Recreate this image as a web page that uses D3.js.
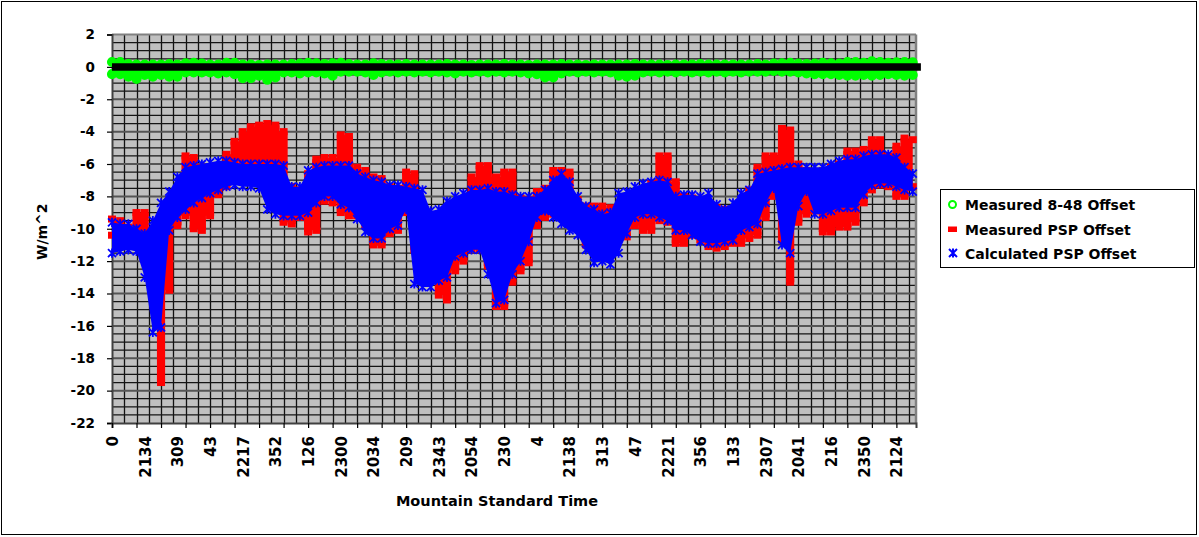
<!DOCTYPE html>
<html>
<head>
<meta charset="utf-8">
<script src="https://cdn.jsdelivr.net/npm/d3@7"></script>
<style>
  body { margin: 0; background: #fff; }
  text { font-family: "DejaVu Sans", sans-serif; font-weight: bold; fill: #000; }
</style>
</head>
<body>
<div id="chart"></div>
<script>
// x tick labels (Mountain Standard Time, HHMM), one every 4 samples
const timeLabels = ['0', '2134', '309', '43', '2217', '352', '126', '2300', '2034', '209',
  '2343', '2054', '230', '4', '2138', '313', '47', '2221', '356', '133',
  '2307', '2041', '216', '2350', '2124'];

const greenHi = [
  0.3, 0.3, 0.18, 0.15, 0.15, 0.15, 0.15, 0.18, 0.15, 0.22,
  0.25, 0.2, 0.15, 0.15, 0.25, 0.25, 0.15, 0.15, 0.12, 0.15,
  0.15, 0.15, 0.18, 0.2, 0.25, 0.22, 0.18, 0.22, 0.25, 0.18,
  0.15, 0.15, 0.22, 0.18, 0.15, 0.15, 0.18, 0.15, 0.15, 0.15,
  0.15, 0.18, 0.15, 0.15, 0.12, 0.15, 0.15, 0.15, 0.18, 0.15,
  0.15, 0.12, 0.15, 0.15, 0.15, 0.18, 0.15, 0.15, 0.12, 0.15,
  0.15, 0.15, 0.15, 0.15, 0.18, 0.15, 0.15, 0.15, 0.12, 0.15,
  0.15, 0.15, 0.18, 0.15, 0.15, 0.15, 0.15, 0.15, 0.15, 0.18,
  0.15, 0.2, 0.22, 0.25, 0.2, 0.18, 0.2, 0.25, 0.22, 0.2,
  0.3, 0.3, 0.25, 0.35, 0.3, 0.25, 0.28, 0.3, 0.28];
const greenLo = [
  -0.45, -0.45, -0.6, -0.75, -0.5, -0.6, -0.5, -0.6, -0.6, -0.35,
  -0.35, -0.35, -0.35, -0.4, -0.35, -0.45, -0.7, -0.7, -0.55, -0.8,
  -0.65, -0.35, -0.35, -0.4, -0.35, -0.35, -0.4, -0.55, -0.3, -0.3,
  -0.3, -0.35, -0.5, -0.35, -0.3, -0.35, -0.3, -0.35, -0.3, -0.35,
  -0.3, -0.35, -0.4, -0.3, -0.35, -0.3, -0.35, -0.3, -0.35, -0.3,
  -0.35, -0.4, -0.45, -0.65, -0.65, -0.4, -0.3, -0.35, -0.3, -0.35,
  -0.3, -0.35, -0.55, -0.6, -0.55, -0.35, -0.3, -0.35, -0.3, -0.35,
  -0.3, -0.35, -0.3, -0.35, -0.3, -0.35, -0.3, -0.35, -0.3, -0.3,
  -0.3, -0.25, -0.3, -0.3, -0.35, -0.4, -0.45, -0.45, -0.45, -0.5,
  -0.55, -0.55, -0.5, -0.55, -0.5, -0.45, -0.5, -0.55, -0.5];

const redHi = [
  -9.4, -9.5, -9.9, -9.0, -9.0, -10.2, -10.5, -9.8, -8.7, -5.5,
  -5.6, -6.2, -6.4, -6.2, -5.4, -4.6, -4.0, -3.7, -3.6, -3.5,
  -3.6, -4.0, -7.4, -7.6, -6.6, -5.7, -5.6, -5.6, -4.2, -4.3,
  -6.2, -6.4, -6.8, -6.9, -7.4, -7.5, -6.5, -6.6, -9.0, -9.4,
  -9.5, -9.2, -8.7, -8.2, -6.8, -6.1, -6.1, -6.8, -6.5, -6.5,
  -8.1, -8.2, -7.7, -7.5, -6.4, -6.4, -6.5, -8.2, -8.6, -8.6,
  -8.6, -8.7, -8.9, -8.5, -8.3, -7.6, -7.2, -5.5, -5.5, -7.1,
  -8.0, -8.1, -8.7, -8.4, -8.7, -8.8, -8.8, -8.4, -7.6, -6.2,
  -5.5, -5.5, -3.8, -3.9, -6.0, -6.4, -6.5, -6.4, -6.2, -6.0,
  -5.2, -5.2, -5.1, -4.5, -4.5, -5.5, -4.9, -4.4, -4.5];
const redLo = [
  -10.4, -10.3, -10.6, -10.3, -10.1, -12.3, -19.5, -13.8, -9.8, -9.2,
  -10.0, -10.1, -9.2, -7.9, -7.4, -6.3, -5.8, -5.8, -5.8, -6.0,
  -6.3, -9.6, -9.7, -9.3, -10.2, -10.1, -8.3, -8.4, -9.0, -9.2,
  -9.2, -9.8, -11.0, -11.0, -10.3, -10.1, -9.0, -11.3, -11.4, -12.3,
  -14.1, -14.4, -12.6, -12.0, -11.3, -11.3, -12.3, -14.8, -14.8, -13.3,
  -12.6, -12.1, -9.8, -9.3, -9.1, -9.3, -9.4, -9.8, -11.0, -11.3,
  -11.6, -11.3, -10.5, -10.5, -9.8, -10.1, -10.1, -9.5, -9.6, -10.9,
  -10.9, -10.4, -10.7, -11.1, -11.2, -11.1, -10.9, -10.9, -10.6, -10.4,
  -9.3, -8.0, -10.7, -13.3, -9.6, -9.1, -8.9, -10.2, -10.2, -9.9,
  -9.9, -9.6, -8.4, -7.6, -7.3, -7.4, -8.0, -8.0, -7.4];

const blueHi = [
  -9.6, -9.7, -9.7, -10.0, -10.3, -9.5, -8.4, -7.7, -6.8, -6.2,
  -6.1, -6.0, -5.9, -5.8, -5.8, -5.9, -6.0, -6.0, -6.0, -6.0,
  -6.0, -6.1, -7.4, -7.4, -6.4, -6.2, -6.1, -6.1, -6.1, -6.1,
  -6.6, -6.8, -7.0, -7.1, -7.3, -7.3, -7.4, -7.5, -7.6, -8.9,
  -8.8, -8.3, -8.0, -7.8, -7.6, -7.6, -7.5, -7.7, -7.7, -7.9,
  -8.0, -8.0, -8.0, -7.6, -7.0, -6.6, -7.1, -8.0, -8.6, -8.8,
  -9.1, -9.0, -7.8, -7.7, -7.4, -7.2, -7.1, -7.0, -7.1, -8.0,
  -7.9, -7.9, -8.0, -7.8, -8.5, -8.8, -8.4, -7.8, -7.6, -6.6,
  -6.5, -6.4, -6.3, -6.2, -6.2, -6.2, -6.2, -6.2, -6.0, -5.8,
  -5.7, -5.7, -5.5, -5.4, -5.4, -5.4, -5.6, -6.2, -6.6];
const blueLo = [
  -11.5, -11.4, -11.3, -11.4, -13.0, -16.4, -16.1, -10.1, -9.3, -8.8,
  -8.4, -8.1, -7.8, -7.6, -7.4, -7.3, -7.4, -7.4, -7.5, -8.8,
  -9.1, -9.2, -9.2, -9.2, -9.0, -8.4, -8.0, -8.0, -8.5, -8.7,
  -9.4, -10.2, -10.6, -10.6, -10.0, -9.8, -8.8, -13.4, -13.6, -13.6,
  -13.2, -13.0, -11.7, -11.5, -11.3, -11.3, -12.8, -14.6, -14.4, -12.8,
  -12.0, -10.8, -9.3, -8.9, -9.3, -9.7, -10.1, -10.4, -11.3, -12.1,
  -12.0, -12.2, -11.5, -10.3, -9.3, -9.1, -9.1, -9.3, -9.5, -10.1,
  -10.1, -10.4, -10.8, -10.9, -10.9, -10.8, -10.7, -10.1, -9.9, -9.7,
  -8.4, -7.5, -11.0, -11.5, -8.6, -7.7, -9.1, -9.1, -8.9, -8.7,
  -8.7, -8.7, -7.9, -7.3, -7.2, -7.2, -7.4, -7.6, -7.7];

const yTicks = [2, 0, -2, -4, -6, -8, -10, -12, -14, -16, -18, -20, -22];
const legendNames = ['Measured 8-48 Offset', 'Measured PSP Offset', 'Calculated PSP Offset'];

const width = 1199;
const height = 537;
const margin = { top: 34.5, right: 283, bottom: 114, left: 112 };
const labelEvery = 4;      // samples between time labels
const tickEvery = 3;       // samples between axis tick marks
const gridEvery = 1.5;     // samples between vertical grid lines
const nSamples = blueHi.length;
const xEnd = 98.4;

const svg = d3.select('#chart')
  .append('svg')
  .attr('width', width)
  .attr('height', height);

svg.append('rect')
  .attr('width', width).attr('height', height)
  .attr('fill', '#fff');

// outer chart border
svg.append('rect')
  .attr('x', 1.5).attr('y', 1.5)
  .attr('width', width - 4).attr('height', height - 4)
  .attr('fill', 'none').attr('stroke', '#000').attr('stroke-width', 1);

const x = d3.scaleLinear().domain([0, xEnd]).range([margin.left, width - margin.right]);
const y = d3.scaleLinear().domain([-22, 2]).range([height - margin.bottom, margin.top]);

const [x0, x1] = x.range();
const [yb, yt] = y.range();

// plot background
svg.append('rect')
  .attr('x', x0).attr('y', yt)
  .attr('width', x1 - x0).attr('height', yb - yt)
  .attr('fill', '#c0c0c0');

// gridlines
const grid = svg.append('g').attr('class', 'grid');
grid.selectAll('line.v')
  .data(d3.range(gridEvery, xEnd, gridEvery))
  .join('line')
  .attr('class', 'v')
  .attr('x1', d => Math.round(x(d)) + 0.5).attr('x2', d => Math.round(x(d)) + 0.5)
  .attr('y1', yt).attr('y2', yb)
  .attr('stroke', '#111').attr('stroke-width', 1.3);

grid.selectAll('line.h')
  .data(d3.range(-21.5, 2, 0.5))
  .join('line')
  .attr('class', 'h')
  .attr('x1', x0).attr('x2', x1)
  .attr('y1', d => y(d)).attr('y2', d => y(d))
  .attr('stroke', d => (d % 2 === 0 ? '#555' : '#151515'))
  .attr('stroke-width', d => (d % 2 === 0 ? 2 : 1.2));

// plot border
svg.append('line').attr('x1', x0).attr('x2', x1).attr('y1', yt).attr('y2', yt)
  .attr('stroke', '#808080').attr('stroke-width', 2);
svg.append('line').attr('x1', x1).attr('x2', x1).attr('y1', yt).attr('y2', yb)
  .attr('stroke', '#808080').attr('stroke-width', 2.5);

// axes
const yAxis = svg.append('g')
  .attr('transform', `translate(${x0},0)`)
  .call(d3.axisLeft(y).tickValues(yTicks).tickSize(5).tickPadding(12).tickFormat(d => String(d)));
yAxis.select('.domain').attr('stroke', '#404040').attr('stroke-width', 2);
yAxis.selectAll('.tick line').attr('stroke', '#000').attr('stroke-width', 1.2);
yAxis.selectAll('text').style('font-size', '13.5px').attr('font-family', null);

const xAxis = svg.append('g')
  .attr('transform', `translate(0,${yb})`)
  .call(d3.axisBottom(x).tickValues(d3.range(0, nSamples, tickEvery)).tickSize(5).tickFormat(''));
xAxis.select('.domain').attr('stroke', '#404040').attr('stroke-width', 2);
xAxis.selectAll('.tick line').attr('stroke', '#000').attr('stroke-width', 1.2);

const labelPos = timeLabels.map((t, i) => i * labelEvery);
const xLabels = svg.append('g')
  .attr('transform', `translate(0,${yb})`)
  .call(d3.axisBottom(x).tickValues(labelPos).tickSize(0)
    .tickFormat((d, i) => timeLabels[i]));
xLabels.select('.domain').remove();
xLabels.selectAll('text')
  .attr('transform', 'rotate(-90)')
  .attr('x', -13).attr('y', 0).attr('dy', '0.36em')
  .style('text-anchor', 'end')
  .style('font-size', '15px')
  .attr('font-family', null);

// axis titles
svg.append('text')
  .attr('transform', `translate(46.5,${(yt + yb) / 2 + 3}) rotate(-90)`)
  .attr('text-anchor', 'middle')
  .style('font-size', '14px')
  .text('W/m^2');

svg.append('text')
  .attr('x', 497).attr('y', 506)
  .attr('text-anchor', 'middle')
  .style('font-size', '14.5px')
  .text('Mountain Standard Time');

// series
const idx = d3.range(nSamples);
const starPath = 'M-4,-4L4,4M-4,4L4,-4M0,-4.6L0,4.6';

function drawBand(hi, lo, color, curve) {
  const g = svg.append('g');
  g.append('path')
    .datum(idx)
    .attr('fill', color)
    .attr('d', d3.area().x(i => x(i)).y0(i => y(lo[i])).y1(i => y(hi[i])).curve(curve));
  return g;
}

// Measured 8-48 Offset (green circles)
const gGreen = drawBand(greenHi, greenLo, '#00ff00', d3.curveLinear);
gGreen.selectAll('circle')
  .data(idx.flatMap(i => [greenHi[i], greenLo[i]].map(v => ({ i, v }))))
  .join('circle')
  .attr('cx', d => x(d.i)).attr('cy', d => y(d.v))
  .attr('r', 4.3)
  .attr('fill', '#00ff00').attr('stroke', '#00ff00').attr('stroke-width', 1.5);

// zero line
svg.append('line')
  .attr('x1', x(0)).attr('x2', x(nSamples))
  .attr('y1', y(0)).attr('y2', y(0))
  .attr('stroke', '#000').attr('stroke-width', 7.5);

// Measured PSP Offset (red squares)
const gRed = drawBand(redHi, redLo, '#ff0000', d3.curveStep);
gRed.selectAll('rect')
  .data(idx.flatMap(i => [redHi[i], redLo[i]].map(v => ({ i, v }))))
  .join('rect')
  .attr('x', d => x(d.i) - 4).attr('y', d => y(d.v) - 3.5)
  .attr('width', 8).attr('height', 7)
  .attr('fill', '#ff0000');

// Calculated PSP Offset (blue stars)
const gBlue = drawBand(blueHi, blueLo, '#0000ff', d3.curveLinear);
gBlue.selectAll('path.star')
  .data(idx.flatMap(i => [blueHi[i], blueLo[i]].map(v => ({ i, v }))))
  .join('path')
  .attr('class', 'star')
  .attr('transform', d => `translate(${x(d.i)},${y(d.v)})`)
  .attr('d', starPath)
  .attr('fill', 'none').attr('stroke', '#0000ff').attr('stroke-width', 1.8);

// legend
const legend = svg.append('g').attr('transform', 'translate(940.5,189.5)');
legend.append('rect')
  .attr('width', 254).attr('height', 78)
  .attr('fill', '#fff').attr('stroke', '#000').attr('stroke-width', 1);

const rows = legend.selectAll('g.row')
  .data(legendNames)
  .join('g')
  .attr('class', 'row')
  .attr('transform', (d, i) => `translate(0,${20.5 + i * 24.5})`);

rows.append('text')
  .attr('x', 24.5).attr('y', 0)
  .style('font-size', '14px')
  .text(d => d);

rows.filter((d, i) => i === 0).append('circle')
  .attr('cx', 12).attr('cy', -5.5).attr('r', 3.5)
  .attr('fill', '#fff').attr('stroke', '#00ff00').attr('stroke-width', 2);
rows.filter((d, i) => i === 1).append('rect')
  .attr('x', 7.5).attr('y', -8).attr('width', 9).attr('height', 5.5)
  .attr('fill', '#ff0000');
rows.filter((d, i) => i === 2).append('path')
  .attr('transform', 'translate(12.5,-6)')
  .attr('d', starPath)
  .attr('fill', 'none').attr('stroke', '#0000ff').attr('stroke-width', 2);
</script>
</body>
</html>
